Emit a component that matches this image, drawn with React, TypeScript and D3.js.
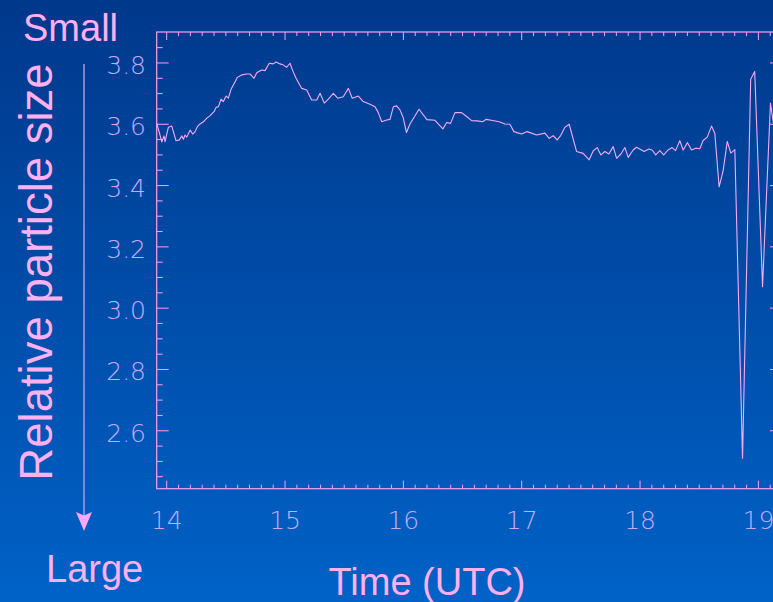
import React from "react";
import * as d3 from "d3";

// ---- data ----
const times: number[] = [
  13.916, 13.959, 13.978, 13.986, 14.014, 14.043, 14.079, 14.107, 14.128, 14.141,
  14.155, 14.170, 14.198, 14.220, 14.240, 14.259, 14.282, 14.310, 14.339, 14.367,
  14.400, 14.417, 14.437, 14.459, 14.479, 14.502, 14.521, 14.544, 14.578, 14.597,
  14.634, 14.677, 14.704, 14.738, 14.761, 14.803, 14.831, 14.867, 14.901, 14.924,
  14.958, 14.986, 15.014, 15.042, 15.065, 15.093, 15.141, 15.183, 15.225, 15.268,
  15.296, 15.332, 15.366, 15.408, 15.445, 15.492, 15.535, 15.568, 15.619, 15.661,
  15.718, 15.760, 15.788, 15.817, 15.859, 15.887, 15.915, 15.943, 15.971, 15.999,
  16.026, 16.056, 16.132, 16.199, 16.267, 16.334, 16.366, 16.399, 16.436, 16.492,
  16.529, 16.577, 16.624, 16.670, 16.698, 16.754, 16.810, 16.858, 16.900, 16.934,
  16.999, 17.046, 17.126, 17.196, 17.232, 17.266, 17.300, 17.329, 17.365, 17.401,
  17.464, 17.519, 17.570, 17.604, 17.638, 17.669, 17.703, 17.736, 17.773, 17.802,
  17.838, 17.872, 17.900, 17.942, 17.970, 17.998, 18.035, 18.074, 18.102, 18.133,
  18.167, 18.200, 18.237, 18.271, 18.300, 18.336, 18.364, 18.401, 18.435, 18.471,
  18.505, 18.533, 18.568, 18.604, 18.632, 18.668, 18.702, 18.737, 18.767, 18.801,
  18.866, 18.935, 18.969, 19.035, 19.102, 19.154,
];
const sizes: number[] = [
  3.603, 3.543, 3.562, 3.543, 3.590, 3.594, 3.546, 3.549, 3.562, 3.551,
  3.565, 3.558, 3.581, 3.568, 3.576, 3.592, 3.601, 3.608, 3.620, 3.628,
  3.641, 3.655, 3.657, 3.682, 3.674, 3.692, 3.685, 3.714, 3.739, 3.753,
  3.761, 3.764, 3.764, 3.750, 3.768, 3.777, 3.775, 3.799, 3.797, 3.803,
  3.797, 3.793, 3.786, 3.799, 3.775, 3.750, 3.717, 3.712, 3.679, 3.679,
  3.701, 3.669, 3.682, 3.701, 3.685, 3.690, 3.717, 3.685, 3.692, 3.674,
  3.665, 3.657, 3.638, 3.608, 3.614, 3.616, 3.657, 3.660, 3.647, 3.621,
  3.573, 3.601, 3.649, 3.615, 3.613, 3.585, 3.606, 3.603, 3.638, 3.638,
  3.627, 3.612, 3.611, 3.608, 3.616, 3.612, 3.608, 3.601, 3.600, 3.576,
  3.568, 3.576, 3.565, 3.571, 3.554, 3.563, 3.549, 3.563, 3.590, 3.600,
  3.511, 3.505, 3.484, 3.513, 3.524, 3.500, 3.511, 3.503, 3.527, 3.489,
  3.503, 3.524, 3.492, 3.516, 3.525, 3.519, 3.511, 3.519, 3.516, 3.500,
  3.514, 3.500, 3.516, 3.524, 3.514, 3.546, 3.516, 3.540, 3.516, 3.522,
  3.520, 3.547, 3.558, 3.594, 3.570, 3.396, 3.448, 3.544, 3.506, 3.517,
  2.510, 3.747, 3.772, 3.070, 3.669, 3.532,
];
const xTickLabels: number[] = [14, 15, 16, 17, 18, 19];
const yTickLabels: number[] = [2.6, 2.8, 3.0, 3.2, 3.4, 3.6, 3.8];

const W = 773;
const H = 602;
const left = 156.7;
const right = 782;
const top = 32;
const bottom = 488.7;

export default function App() {
  const x = d3.scaleLinear().domain([13.9155, 19.1995]).range([left, right]);
  const y = d3.scaleLinear().domain([2.411, 3.901]).range([bottom, top]);

  const pts = times.map((t, i) => [t, sizes[i]] as [number, number]);
  const line = d3
    .line<[number, number]>()
    .x((d) => x(d[0]))
    .y((d) => y(d[1]));

  const xMinor = d3.range(140, 192).map((v) => v / 10).filter((v) => x(v) > left + 0.5 && x(v) < right);
  const yMinor = d3.range(49, 78).map((v) => v / 20).filter((v) => y(v) < bottom - 0.5 && y(v) > top + 0.5);

  const frame = "#ff9ff0";
  const tickLabel = "#c2aefa";
  const title = "#ffb0f0";
  const tickFont = "'DejaVu Sans ExtraLight', 'DejaVu Sans', sans-serif";

  return (
    <svg
      width={W}
      height={H}
      style={{ position: "fixed", left: 0, top: 0 }}
      xmlns="http://www.w3.org/2000/svg"
    >
      <defs>
        <linearGradient id="bg" x1="0" y1="0" x2="0" y2="1">
          <stop offset="0" stopColor="#00388b" />
          <stop offset="1" stopColor="#0062c7" />
        </linearGradient>
        <clipPath id="plot">
          <rect x={left} y={top} width={right - left} height={bottom - top} />
        </clipPath>
      </defs>
      <rect x={0} y={0} width={W} height={H} fill="url(#bg)" />

      {/* frame */}
      <rect x={left} y={top} width={right - left} height={bottom - top} fill="none" stroke={frame} strokeWidth={1.2} />

      {/* x ticks bottom & top */}
      {xMinor.map((v) => {
        const major = Math.abs(v - Math.round(v)) < 1e-6;
        const len = major ? 8 : 4;
        const xx = x(v);
        return (
          <g key={"xt" + v}>
            <line x1={xx} x2={xx} y1={bottom} y2={bottom - len} stroke={frame} strokeWidth={1} />
            <line x1={xx} x2={xx} y1={top} y2={top + len} stroke={frame} strokeWidth={1} />
          </g>
        );
      })}

      {/* y ticks left & right */}
      {yMinor.map((v) => {
        const major = Math.abs(v * 5 - Math.round(v * 5)) < 1e-6;
        const len = major ? 12 : 6;
        const yy = y(v);
        return (
          <g key={"yt" + v}>
            <line x1={left} x2={left + len} y1={yy} y2={yy} stroke={frame} strokeWidth={1} />
            <line x1={right} x2={right - len} y1={yy} y2={yy} stroke={frame} strokeWidth={1} />
          </g>
        );
      })}

      {/* data line */}
      <path
        d={line(pts) || ""}
        fill="none"
        stroke="#f4acf6"
        strokeWidth={1.1}
        strokeLinejoin="round"
        clipPath="url(#plot)"
      />

      {/* tick labels */}
      {xTickLabels.map((v) => (
        <text
          key={"xl" + v}
          x={x(v)}
          y={529}
          textAnchor="middle"
          fill={tickLabel}
          fontFamily={tickFont}
          fontWeight={200}
          fontSize={25}
        >
          {String(v)}
        </text>
      ))}
      {yTickLabels.map((v) => (
        <text
          key={"yl" + v}
          x={146}
          y={y(v) + 11}
          textAnchor="end"
          fill={tickLabel}
          fontFamily={tickFont}
          fontWeight={200}
          fontSize={25}
        >
          {v.toFixed(1)}
        </text>
      ))}

      {/* axis titles */}
      <text x={23} y={40.5} fill={title} fontFamily="'Liberation Sans', Arial, sans-serif" fontSize={38}>
        Small
      </text>
      <text x={46} y={581.5} fill={title} fontFamily="'Liberation Sans', Arial, sans-serif" fontSize={38}>
        Large
      </text>
      <text x={427} y={595} textAnchor="middle" fill={title} fontFamily="'Liberation Sans', Arial, sans-serif" fontSize={38}>
        Time (UTC)
      </text>
      <text
        transform="translate(51.5,272) rotate(-90)"
        textAnchor="middle"
        fill={title}
        fontFamily="'Liberation Sans', Arial, sans-serif"
        fontSize={45.5}
      >
        Relative particle size
      </text>

      {/* arrow */}
      <line x1={84} x2={84} y1={64} y2={518} stroke="#a898e6" strokeWidth={1.5} />
      <path d="M76,512 L84,515.5 L92,512 L84,531 Z" fill="#ffa8f4" />
    </svg>
  );
}
